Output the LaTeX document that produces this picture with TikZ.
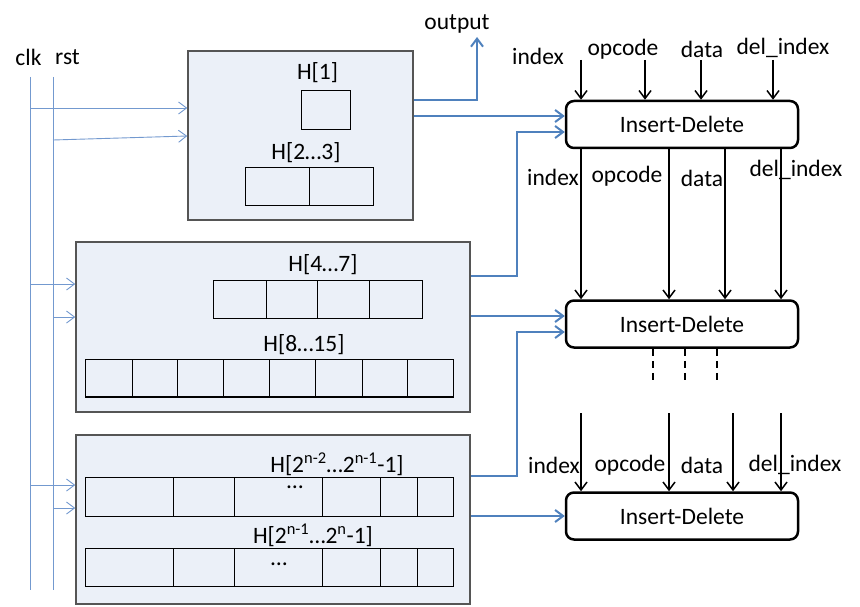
\documentclass[tikz,border=0pt]{standalone}
\usepackage{fontspec}
\setmainfont{Carlito}
\usetikzlibrary{arrows.meta}
\definecolor{boxfill}{RGB}{235,240,248}
\definecolor{boxline}{RGB}{85,85,85}
\definecolor{sigblue}{RGB}{79,129,189}
\definecolor{clkblue}{RGB}{115,153,207}
\begin{document}
\begin{tikzpicture}[x=1pt,y=-1pt,
 every node/.style={font=\fontsize{23.5}{27}\selectfont, inner sep=0pt},
 regbox/.style={draw=boxline, line width=1.5pt, fill=boxfill},
 idbox/.style={draw=black, line width=2.5pt, rounded corners=8pt, fill=white, minimum width=232pt, minimum height=47pt},
 cell/.style={draw=black, line width=0.9pt},
 clkline/.style={draw=clkblue, line width=0.9pt},
 clkarrow/.style={clkline, -{Straight Barb[length=8pt,width=12pt]}},
 conn/.style={draw=sigblue, line width=2pt, -{Straight Barb[length=8pt,width=12pt]}},
 sig/.style={draw=black, line width=1.5pt, -{Straight Barb[length=8pt,width=12pt]}},
 sigdash/.style={draw=black, line width=1.5pt, dash pattern=on 7pt off 5pt},
]
\useasboundingbox (0,0) rectangle (860,607);

% clock / reset
\node (clk) at (28.5,57) {clk};
\node (rst) at (67.5,57) {rst};
\coordinate (clktop) at (30,77);  \coordinate (clkbot) at (30,590);
\coordinate (rsttop) at (53,77);  \coordinate (rstbot) at (53,590);
\draw[clkline] (clktop) -- (clkbot);
\draw[clkline] (rsttop) -- (rstbot);

% register boxes
\node[regbox, minimum width=225pt, minimum height=169pt] (box1) at (300.5,135.5) {};
\node[regbox, minimum width=394pt, minimum height=170pt] (box2) at (273,327) {};
\node[regbox, minimum width=394pt, minimum height=169pt] (box3) at (273,519.5) {};

% box 1 contents
\node (h1) at (317.5,73) {H[1]};
\draw[cell] (301,90) rectangle (350,129);
\node (h23) at (306,153) {H[2…3]};
\draw[cell] (245,167) rectangle (373,205);
\draw[cell] (309,167) -- (309,205);

% box 2 contents
\node (h47) at (323,265) {H[4…7]};
\draw[cell] (213,280) rectangle (422,318);
\foreach \x in {266,317,369} \draw[cell] (\x,280) -- (\x,318);
\node (h815) at (304,345) {H[8…15]};
\draw[cell] (85,359) rectangle (453,397);
\foreach \x in {132,177,223,269,315,362,407} \draw[cell] (\x,359) -- (\x,397);
\draw[black, line width=2.2pt] (85,397) -- (453,397);

% box 3 contents
\node (hn1) at (337,464) {H[2\textsuperscript{n-2}…2\textsuperscript{n-1}-1]};
\draw[cell] (85,477) rectangle (453,516);
\foreach \x in {173,234,322,380,417} \draw[cell] (\x,477) -- (\x,516);
\node (dots1) at (295,487) {…};
\node (hn2) at (313,535) {H[2\textsuperscript{n-1}…2\textsuperscript{n}-1]};
\draw[cell] (85,548) rectangle (453,586);
\foreach \x in {173,234,322,380,417} \draw[cell] (\x,548) -- (\x,586);
\node (dots2) at (279,564) {…};

% clk/rst arrows
\coordinate (c1) at (30,108);  \coordinate (r1) at (53,140);
\coordinate (c2) at (30,284);  \coordinate (r2) at (53,317);
\coordinate (c3) at (30,485);  \coordinate (r3) at (53,508);
\draw[clkarrow] (c1) -- (box1.west |- c1);
\draw[clkarrow] (r1) -- (box1.west |- 0,136);
\draw[clkarrow] (c2) -- (box2.west |- c2);
\draw[clkarrow] (r2) -- (box2.west |- r2);
\draw[clkarrow] (c3) -- (box3.west |- c3);
\draw[clkarrow] (r3) -- (box3.west |- r3);

% insert-delete units
\node[idbox] (id1) at (682,124.5) {Insert-Delete};
\node[idbox] (id2) at (682,324) {Insert-Delete};
\node[idbox] (id3) at (682,516) {Insert-Delete};

% output
\node (outlbl) at (457,24) {output};
\coordinate (outtip) at (477,37);
\draw[conn] (box1.east |- 0,100) -| (outtip);

% blue connections
\draw[conn] (box1.east |- 0,116) -- (id1.west |- 0,116);
\draw[conn] (box2.east |- 0,276) -- (517,276) -- (517,132) -- (id1.west |- 0,132);
\draw[conn] (box2.east |- 0,316) -- (id2.west |- 0,316);
\draw[conn] (box3.east |- 0,476) -- (517,476) -- (517,332) -- (id2.west |- 0,332);
\draw[conn] (box3.east |- 0,516) -- (id3.west |- 0,516);

% inputs to id1
\node (l1a) at (538,56) {index};
\node (l1b) at (623,49) {opcode};
\node (l1c) at (702,49) {data};
\node (l1d) at (783,48) {del\_index};
\foreach \x in {581,645,701,773} \draw[sig] (\x,60) -- (id1.north -| \x,0);

% id1 -> id2
\node (l2a) at (553,177) {index};
\node (l2b) at (627,176) {opcode};
\node (l2c) at (702,178) {data};
\node (l2d) at (796,170) {del\_index};
\foreach \x in {581,669,725,781} \draw[sig] (id1.south -| \x,0) -- (id2.north -| \x,0);

% dashed continuation
\foreach \x in {653,685,717} \draw[sigdash] (id2.south -| \x,0) -- (\x,384);

% inputs to id3
\node (l3a) at (554,465) {index};
\node (l3b) at (630,465) {opcode};
\node (l3c) at (702,465) {data};
\node (l3d) at (795,465) {del\_index};
\foreach \x in {581,669,733,781} \draw[sig] (\x,413) -- (id3.north -| \x,0);
\end{tikzpicture}
\end{document}
